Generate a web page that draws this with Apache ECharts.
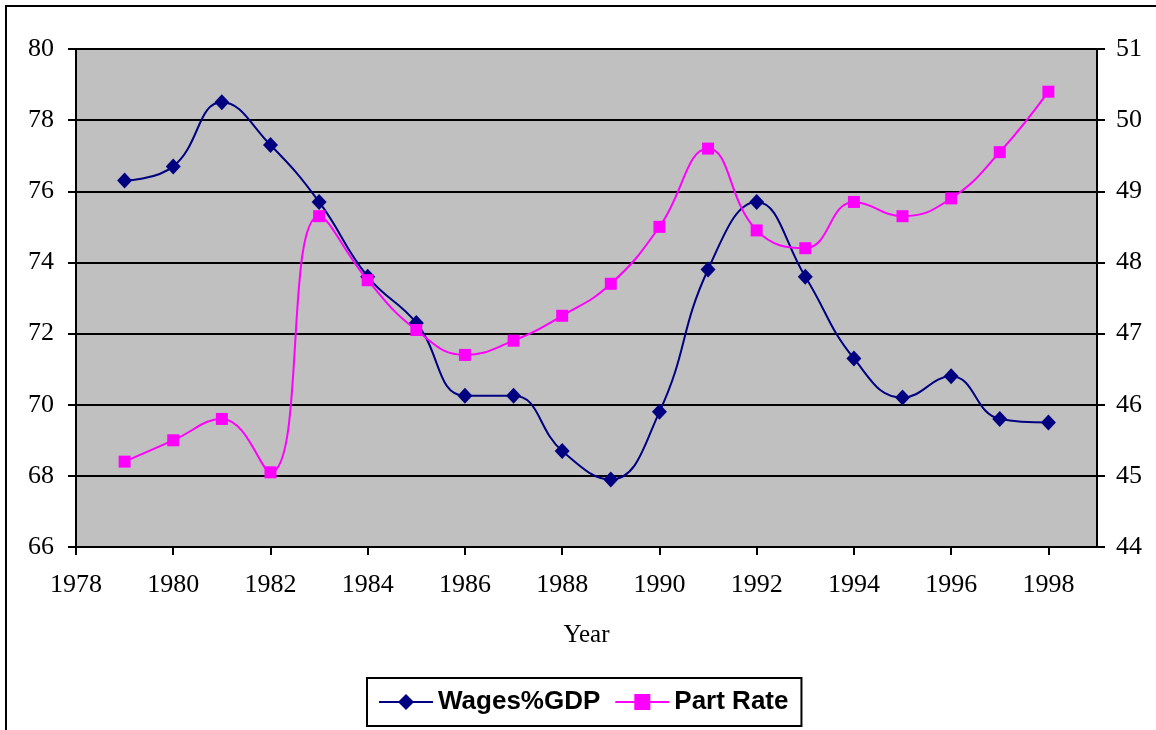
<!DOCTYPE html>
<html>
<head>
<meta charset="utf-8">
<script src="https://cdn.jsdelivr.net/npm/echarts@6/dist/echarts.min.js"></script>
<style>
  html, body { margin: 0; padding: 0; background: #fff; }
  #chart { width: 1156px; height: 730px; }
</style>
</head>
<body>
<div id="chart"></div>
<script>
// values
const years = [1979, 1980, 1981, 1982, 1983, 1984, 1985, 1986, 1987, 1988,
  1989, 1990, 1991, 1992, 1993, 1994, 1995, 1996, 1997, 1998]
const wagesGdp = [76.3, 76.7, 78.5, 77.3, 75.7, 73.6, 72.3, 70.25, 70.25, 68.7,
  67.9, 69.8, 73.8, 75.7, 73.6, 71.3, 70.2, 70.8, 69.6, 69.5]
const partRate = [45.2, 45.5, 45.8, 45.05, 48.65, 47.75, 47.05, 46.7, 46.9, 47.25,
  47.7, 48.5, 49.6, 48.45, 48.2, 48.85, 48.65, 48.9, 49.55, 50.4]
const yearTicks = [1978, 1980, 1982, 1984, 1986, 1988, 1990, 1992, 1994, 1996, 1998]

const serif = '"Liberation Serif", "Times New Roman", serif'

const chart = echarts.init(document.getElementById('chart'))

const pairs = arr => years.map((y, i) => [y, arr[i]])

chart.setOption({
  animation: false,
  backgroundColor: '#fff',
  graphic: [{
    type: 'rect',
    shape: { x: 6, y: 6, width: 1300, height: 900 },
    style: { fill: 'none', stroke: '#000', lineWidth: 2 },
    silent: true,
    z: 100,
  }],
  grid: {
    left: 76, top: 49, right: 59, bottom: 183,
    show: true,
    backgroundColor: '#c0c0c0',
    borderColor: '#808080',
    borderWidth: 1,
  },
  legend: {
    top: 678,
    left: 367,
    itemWidth: 54,
    itemHeight: 20,
    itemGap: 14,
    padding: [11, 13, 11, 11],
    borderColor: '#000',
    borderWidth: 2,
    lineStyle: { width: 2 },
    textStyle: { fontFamily: '"Liberation Sans", Arial, sans-serif', fontWeight: 'bold', fontSize: 26, color: '#000' },
    data: ['Wages%GDP', 'Part Rate'],
  },
  xAxis: {
    type: 'value',
    min: 1978,
    max: 1999,
    interval: 2,
    name: 'Year',
    nameLocation: 'middle',
    nameGap: 76,
    nameTextStyle: { fontFamily: serif, fontSize: 25, color: '#000' },
    axisLine: { lineStyle: { color: '#000', width: 2 } },
    axisTick: { show: true, length: 8, customValues: yearTicks, lineStyle: { color: '#000', width: 2 } },
    axisLabel: {
      customValues: yearTicks,
      formatter: v => String(v),
      margin: 25,
      fontFamily: serif, fontSize: 26, color: '#000',
    },
    splitLine: { show: false },
  },
  yAxis: [{
    type: 'value',
    min: 66,
    max: 80,
    interval: 2,
    axisLine: { show: true, lineStyle: { color: '#000', width: 2 } },
    axisTick: { show: true, length: 8, lineStyle: { color: '#000', width: 2 } },
    axisLabel: { margin: 22, fontFamily: serif, fontSize: 26, color: '#000' },
    splitLine: { show: true, lineStyle: { color: '#000', width: 2 } },
  }, {
    type: 'value',
    min: 44,
    max: 51,
    interval: 1,
    position: 'right',
    axisLine: { show: true, lineStyle: { color: '#000', width: 2 } },
    axisTick: { show: true, length: 8, lineStyle: { color: '#000', width: 2 } },
    axisLabel: { margin: 19, fontFamily: serif, fontSize: 26, color: '#000' },
    splitLine: { show: false },
  }],
  series: [{
    name: 'Wages%GDP',
    type: 'line',
    yAxisIndex: 0,
    smooth: 0.45,
    symbol: 'diamond',
    symbolSize: [15, 16],
    itemStyle: { color: '#000080' },
    lineStyle: { color: '#000080', width: 2 },
    data: pairs(wagesGdp),
    z: 3,
  }, {
    name: 'Part Rate',
    type: 'line',
    yAxisIndex: 1,
    smooth: 0.45,
    symbol: 'rect',
    symbolSize: 12,
    itemStyle: { color: '#ff00ff' },
    lineStyle: { color: '#ff00ff', width: 2 },
    data: pairs(partRate),
    z: 4,
  }],
})
</script>
</body>
</html>
